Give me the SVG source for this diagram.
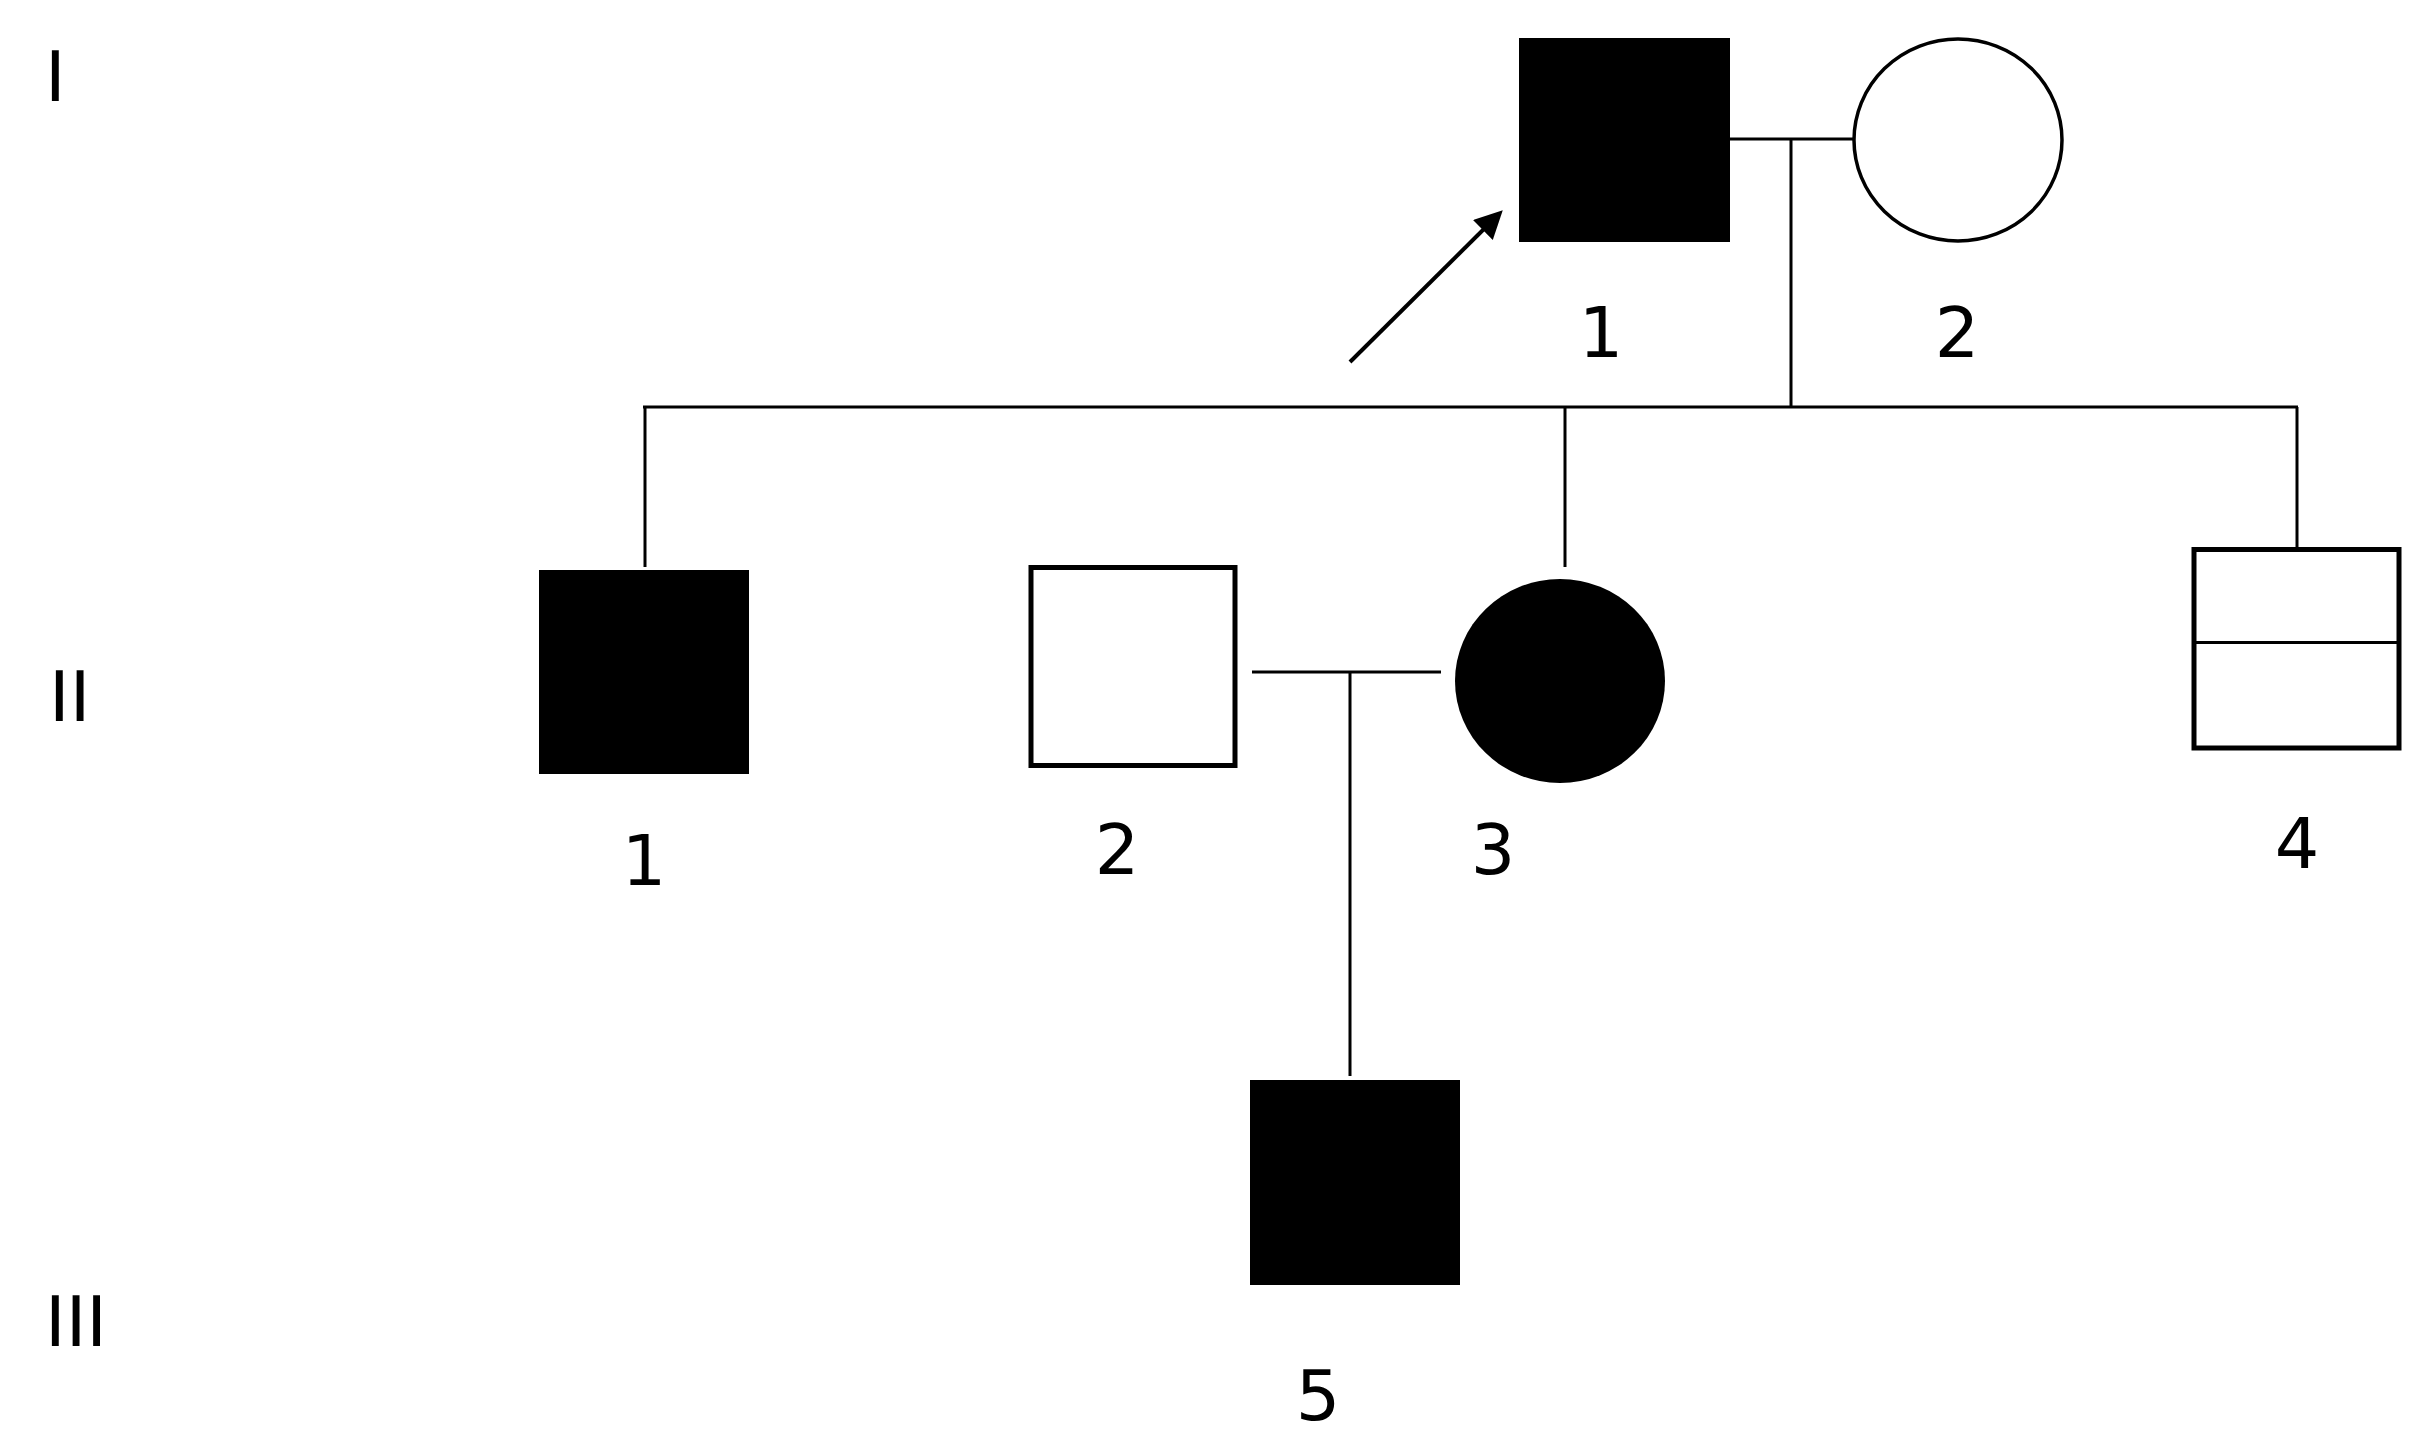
<svg xmlns="http://www.w3.org/2000/svg" width="2422" height="1433" viewBox="0 0 2422 1433">
<style>
  .ln { stroke:#000; stroke-width:3; fill:none; }
  .arr { stroke:#000; stroke-width:4; fill:none; }
  .aff { fill:#000; stroke:none; }
  .un { fill:#fff; stroke:#000; stroke-width:5; }
  .unc { fill:#fff; stroke:#000; stroke-width:3.5; }
  .lbl { font-family:"DejaVu Sans", sans-serif; font-size:70px; fill:#000; text-anchor:middle; }
  .gen { font-family:"DejaVu Sans", sans-serif; font-size:70px; fill:#000; }
</style>
<defs>
  <marker id="ah" markerUnits="userSpaceOnUse" markerWidth="30" markerHeight="30" refX="10" refY="14" orient="auto">
    <path d="M0,0 L28,14 L0,28 z" fill="#000"/>
  </marker>
</defs>
<rect width="2422" height="1433" fill="#fff"/>

<g id="generations">
  <text class="gen" x="45" y="101">I</text>
  <text class="gen" x="49" y="721">II</text>
  <text class="gen" x="45" y="1346">III</text>
</g>

<g id="connectors">
  <line class="ln" x1="1730" y1="139" x2="1855" y2="139"/>
  <line class="ln" x1="1791" y1="139" x2="1791" y2="407"/>
  <line class="ln" x1="643" y1="407" x2="2298" y2="407"/>
  <line class="ln" x1="645" y1="407" x2="645" y2="567"/>
  <line class="ln" x1="1565" y1="407" x2="1565" y2="567"/>
  <line class="ln" x1="2297" y1="407" x2="2297" y2="547"/>
  <line class="ln" x1="1252" y1="672" x2="1441" y2="672"/>
  <line class="ln" x1="1350" y1="672" x2="1350" y2="1076"/>
  <line class="arr" x1="1350" y1="362" x2="1490" y2="223" marker-end="url(#ah)"/>
</g>

<g id="I-1">
  <rect class="aff" x="1519" y="38" width="211" height="204"/>
  <text class="lbl" x="1601" y="357">1</text>
</g>
<g id="I-2">
  <ellipse class="unc" cx="1958" cy="140" rx="104" ry="101"/>
  <text class="lbl" x="1957" y="357">2</text>
</g>
<g id="II-1">
  <rect class="aff" x="539" y="570" width="210" height="204"/>
  <text class="lbl" x="644" y="885">1</text>
</g>
<g id="II-2">
  <rect class="un" x="1031" y="567.5" width="204" height="198"/>
  <text class="lbl" x="1117" y="874">2</text>
</g>
<g id="II-3">
  <ellipse class="aff" cx="1560" cy="681" rx="105" ry="102"/>
  <text class="lbl" x="1493" y="874">3</text>
</g>
<g id="II-4">
  <rect class="un" x="2194" y="549.5" width="205" height="198.5"/>
  <line class="ln" x1="2194" y1="642.5" x2="2399" y2="642.5"/>
  <text class="lbl" x="2297" y="868">4</text>
</g>
<g id="III-5">
  <rect class="aff" x="1250" y="1080" width="210" height="205"/>
  <text class="lbl" x="1318" y="1420">5</text>
</g>
</svg>
